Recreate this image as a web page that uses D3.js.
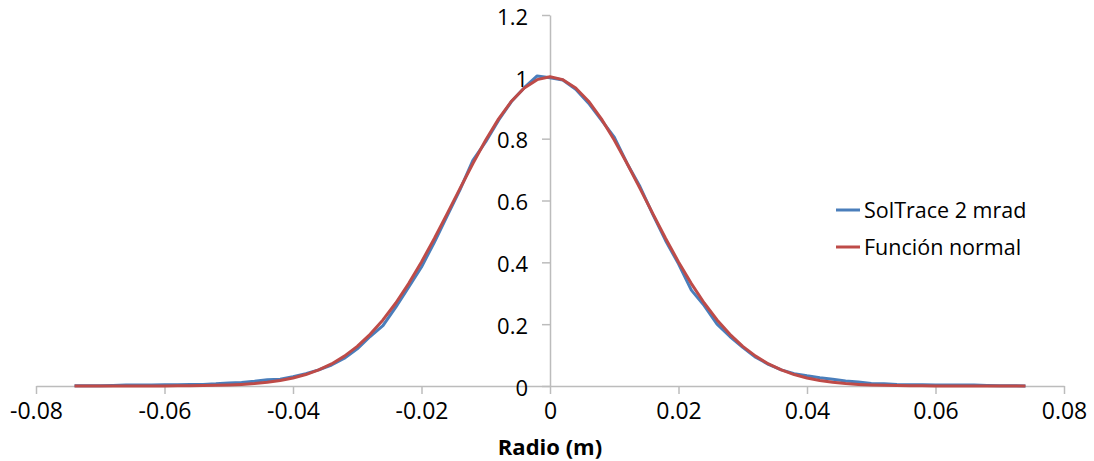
<!DOCTYPE html>
<html>
<head>
<meta charset="utf-8">
<script src="https://cdn.jsdelivr.net/npm/d3@7"></script>
<style>
  html, body { margin: 0; padding: 0; background: #fff; }
  svg { display: block; }
  text { font-family: "Open Sans", "Noto Sans", sans-serif; fill: #000; }
</style>
</head>
<body>
<svg id="chart" width="1094" height="461"></svg>
<script>
// Radius samples (m), shared by both series
const radio = [
  -0.074, -0.072, -0.070, -0.068, -0.066, -0.064, -0.062, -0.060, -0.058, -0.056,
  -0.054, -0.052, -0.050, -0.048, -0.046, -0.044, -0.042, -0.040, -0.038, -0.036,
  -0.034, -0.032, -0.030, -0.028, -0.026, -0.024, -0.022, -0.020, -0.018, -0.016,
  -0.014, -0.012, -0.010, -0.008, -0.006, -0.004, -0.002, 0.000, 0.002, 0.004,
  0.006, 0.008, 0.010, 0.012, 0.014, 0.016, 0.018, 0.020, 0.022, 0.024,
  0.026, 0.028, 0.030, 0.032, 0.034, 0.036, 0.038, 0.040, 0.042, 0.044,
  0.046, 0.048, 0.050, 0.052, 0.054, 0.056, 0.058, 0.060, 0.062, 0.064,
  0.066, 0.068, 0.070, 0.072, 0.074
];

// Normalised flux from the SolTrace run (2 mrad)
const solTrace = [
  0.001, 0.001, 0.001, 0.002, 0.003, 0.003, 0.003, 0.004, 0.004, 0.005,
  0.005, 0.007, 0.010, 0.011, 0.015, 0.020, 0.022, 0.030, 0.040, 0.052,
  0.068, 0.090, 0.120, 0.160, 0.195, 0.255, 0.320, 0.385, 0.465, 0.550,
  0.635, 0.730, 0.790, 0.860, 0.920, 0.965, 1.003, 0.997, 0.990, 0.960,
  0.915, 0.860, 0.805, 0.720, 0.645, 0.555, 0.470, 0.395, 0.310, 0.260,
  0.200, 0.160, 0.125, 0.093, 0.070, 0.052, 0.040, 0.033, 0.027, 0.022,
  0.016, 0.013, 0.008, 0.007, 0.005, 0.004, 0.004, 0.003, 0.003, 0.003,
  0.003, 0.002, 0.001, 0.001, 0.000
];

// Fitted normal curve
const normal = [
  0.0000, 0.0000, 0.0000, 0.0000, 0.0001, 0.0001, 0.0002, 0.0003, 0.0005, 0.0008,
  0.0013, 0.0021, 0.0033, 0.0052, 0.0080, 0.0120, 0.0178, 0.0259, 0.0370, 0.0519,
  0.0714, 0.0966, 0.1282, 0.1670, 0.2137, 0.2685, 0.3313, 0.4013, 0.4773, 0.5575,
  0.6393, 0.7198, 0.7959, 0.8641, 0.9211, 0.9641, 0.9909, 1.0000, 0.9909, 0.9641,
  0.9211, 0.8641, 0.7959, 0.7198, 0.6393, 0.5575, 0.4773, 0.4013, 0.3313, 0.2685,
  0.2137, 0.1670, 0.1282, 0.0966, 0.0714, 0.0519, 0.0370, 0.0259, 0.0178, 0.0120,
  0.0080, 0.0052, 0.0033, 0.0021, 0.0013, 0.0008, 0.0005, 0.0003, 0.0002, 0.0001,
  0.0001, 0.0000, 0.0000, 0.0000, 0.0000
];

const xTicks = [-0.08, -0.06, -0.04, -0.02, 0, 0.02, 0.04, 0.06, 0.08];
const yTicks = [0, 0.2, 0.4, 0.6, 0.8, 1, 1.2];
const seriesNames = ["SolTrace 2 mrad", "Función normal"];
const seriesColors = ["#4a7ebb", "#be4b48"];
const xTitle = "Radio (m)";

const svg = d3.select("#chart");
const axisColor = "#bcbcbc";

const x = d3.scaleLinear().domain([-0.08, 0.08]).range([36, 1064]);
const y = d3.scaleLinear().domain([0, 1.2]).range([386, 15]);

const fmt = d => (d === 0 ? "0" : String(+d.toFixed(2)));

// Horizontal axis along y = 0
const gx = svg.append("g")
  .attr("transform", `translate(0,${y(0)})`)
  .call(d3.axisBottom(x).tickValues(xTicks).tickFormat(fmt).tickSize(8).tickSizeOuter(0).tickPadding(9));
gx.select(".domain").attr("stroke", axisColor).attr("stroke-width", 1.5);
gx.selectAll(".tick line").attr("stroke", axisColor).attr("stroke-width", 1.5);
gx.selectAll(".tick text").attr("font-size", 23).attr("fill", "#000");

// Vertical axis through x = 0
const gy = svg.append("g")
  .attr("transform", `translate(${x(0)},0)`)
  .call(d3.axisLeft(y).tickValues(yTicks).tickFormat(fmt).tickSize(8).tickSizeOuter(0).tickPadding(14));
gy.select(".domain").attr("stroke", axisColor).attr("stroke-width", 1.5);
gy.selectAll(".tick line").attr("stroke", axisColor).attr("stroke-width", 1.5);
gy.selectAll(".tick text").attr("font-size", 22).attr("dy", "0.42em").attr("fill", "#000");

// Series lines
const line = vals => d3.line()
  .x((d, i) => x(radio[i]))
  .y(d => y(d))(vals);

[solTrace, normal].forEach((vals, k) => {
  svg.append("path")
    .attr("d", line(vals))
    .attr("fill", "none")
    .attr("stroke", seriesColors[k])
    .attr("stroke-width", 3)
    .attr("stroke-linejoin", "round");
});

// Axis title
svg.append("text")
  .attr("x", x(0))
  .attr("y", 455)
  .attr("text-anchor", "middle")
  .attr("font-size", 22)
  .attr("font-weight", "bold")
  .text(xTitle);

// Legend
const legend = svg.append("g").attr("transform", "translate(836,210)");
seriesNames.forEach((name, k) => {
  const row = legend.append("g").attr("transform", `translate(0,${k * 37})`);
  row.append("line")
    .attr("x1", 0).attr("x2", 24)
    .attr("y1", 0).attr("y2", 0)
    .attr("stroke", seriesColors[k])
    .attr("stroke-width", 3);
  row.append("text")
    .attr("x", 28)
    .attr("y", 0)
    .attr("dy", "0.35em")
    .attr("font-size", 21.5)
    .text(name);
});
</script>
</body>
</html>
